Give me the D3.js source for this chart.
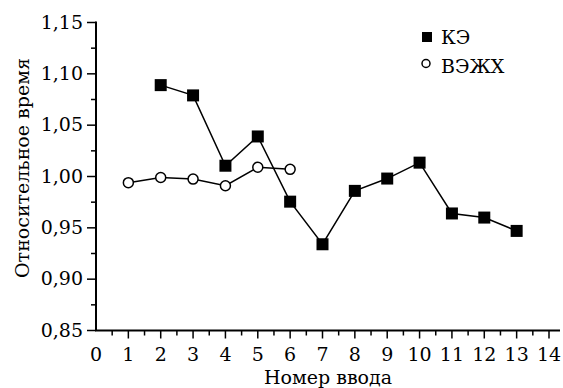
<!DOCTYPE html>
<html lang='ru'>
  <head>
    <meta charset='utf-8'>
    <title>Относительное время</title>
    <script src='https://cdn.jsdelivr.net/npm/d3@7'></script>
    <style>
      body { margin: 0; background: #fff; }
    </style>
  </head>
  <body>
    <script>
      // data
      var keX = [2, 3, 4, 5, 6, 7, 8, 9, 10, 11, 12, 13];
      var keY = [1.089, 1.079, 1.0105, 1.039, 0.9755, 0.934, 0.986, 0.998, 1.0135, 0.964, 0.960, 0.947];
      var hplcX = [1, 2, 3, 4, 5, 6];
      var hplcY = [0.994, 0.999, 0.9975, 0.991, 1.009, 1.007];
      var xTicks = d3.range(0, 15);
      var yTicks = [0.85, 0.90, 0.95, 1.00, 1.05, 1.10, 1.15];
      var legendNames = ['КЭ', 'ВЭЖХ'];

      var FONT = '19px "DejaVu Serif"';

      var w = 563, h = 388;
      var svg = d3.select('body').append('svg')
                  .attr('width', w)
                  .attr('height', h);

      var x = d3.scaleLinear().domain([0, 14]).range([96, 549]);
      var y = d3.scaleLinear().domain([0.85, 1.15]).range([330.5, 22.5]);

      // axes lines
      svg.append('line')
         .attr('x1', 96).attr('x2', 96)
         .attr('y1', y(1.15) - 1).attr('y2', y(0.85))
         .attr('stroke', '#000').attr('stroke-width', 2);
      svg.append('line')
         .attr('x1', 95).attr('x2', 560)
         .attr('y1', y(0.85)).attr('y2', y(0.85))
         .attr('stroke', '#000').attr('stroke-width', 2);

      // y ticks (major + minor)
      var yMinor = d3.range(0.875, 1.15, 0.05);
      svg.selectAll('.ymaj').data(yTicks).enter().append('line')
         .attr('x1', 87).attr('x2', 96)
         .attr('y1', function(d){ return y(d); })
         .attr('y2', function(d){ return y(d); })
         .attr('stroke', '#000').attr('stroke-width', 1.5);
      svg.selectAll('.ymin').data(yMinor).enter().append('line')
         .attr('x1', 91).attr('x2', 96)
         .attr('y1', function(d){ return y(d); })
         .attr('y2', function(d){ return y(d); })
         .attr('stroke', '#000').attr('stroke-width', 1.5);
      svg.selectAll('.ylab').data(yTicks).enter().append('text')
         .attr('x', 83)
         .attr('y', function(d){ return y(d) + 6; })
         .attr('text-anchor', 'end')
         .style('font', FONT)
         .text(function(d){ return d.toFixed(2).replace('.', ','); });

      // x ticks
      var xMinor = d3.range(0.5, 14, 1);
      svg.selectAll('.xmaj').data(xTicks.slice(1)).enter().append('line')
         .attr('x1', function(d){ return x(d); })
         .attr('x2', function(d){ return x(d); })
         .attr('y1', y(0.85)).attr('y2', y(0.85) + 8)
         .attr('stroke', '#000').attr('stroke-width', 1.5);
      svg.selectAll('.xmin').data(xMinor).enter().append('line')
         .attr('x1', function(d){ return x(d); })
         .attr('x2', function(d){ return x(d); })
         .attr('y1', y(0.85)).attr('y2', y(0.85) + 5)
         .attr('stroke', '#000').attr('stroke-width', 1.5);
      svg.selectAll('.xlab').data(xTicks).enter().append('text')
         .attr('x', function(d){ return x(d); })
         .attr('y', 361)
         .attr('text-anchor', 'middle')
         .style('font', FONT)
         .text(function(d){ return d; });

      // titles
      svg.append('text')
         .attr('x', 328).attr('y', 384)
         .attr('text-anchor', 'middle')
         .style('font', FONT)
         .text('Номер ввода');
      svg.append('text')
         .attr('transform', 'translate(29,168) rotate(-90)')
         .attr('text-anchor', 'middle')
         .style('font', FONT)
         .text('Относительное время');

      var line = d3.line()
                   .x(function(d){ return x(d[0]); })
                   .y(function(d){ return y(d[1]); });

      var ke = d3.zip(keX, keY);
      var hplc = d3.zip(hplcX, hplcY);

      svg.append('path').datum(hplc)
         .attr('d', line).attr('fill', 'none')
         .attr('stroke', '#000').attr('stroke-width', 1.5);
      svg.append('path').datum(ke)
         .attr('d', line).attr('fill', 'none')
         .attr('stroke', '#000').attr('stroke-width', 1.5);

      svg.selectAll('.hp').data(hplc).enter().append('circle')
         .attr('cx', function(d){ return x(d[0]); })
         .attr('cy', function(d){ return y(d[1]); })
         .attr('r', 5)
         .attr('fill', '#fff').attr('stroke', '#000').attr('stroke-width', 1.5);
      svg.selectAll('.ke').data(ke).enter().append('rect')
         .attr('x', function(d){ return x(d[0]) - 6; })
         .attr('y', function(d){ return y(d[1]) - 6; })
         .attr('width', 12).attr('height', 12)
         .attr('fill', '#000');

      // legend
      svg.append('rect')
         .attr('x', 422).attr('y', 32).attr('width', 10).attr('height', 10)
         .attr('fill', '#000');
      svg.append('circle')
         .attr('cx', 426).attr('cy', 63.5).attr('r', 4)
         .attr('fill', '#fff').attr('stroke', '#000').attr('stroke-width', 1.5);
      svg.selectAll('.leg').data(legendNames).enter().append('text')
         .attr('x', 441)
         .attr('y', function(d, i){ return 44 + i * 28.5; })
         .style('font', FONT)
         .text(function(d){ return d; });
    </script>
  </body>
</html>
